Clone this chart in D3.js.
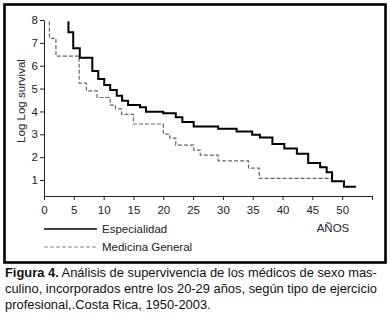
<!DOCTYPE html>
<html>
<head>
<meta charset="utf-8">
<script src="https://cdn.jsdelivr.net/npm/d3@7"></script>
<style>
  body { margin: 0; background: #fff; }
  svg { display: block; font-family: "Liberation Sans", Arial, sans-serif; }
</style>
</head>
<body>
<div id="chart"></div>
<script>
// step values (years, log log survival)
var especialidadYears = [4.1, 4.1, 4.9, 6.0, 8.1, 9.1, 10.1, 11.1, 12.2, 13.1, 14.1, 16.1, 17.1, 20.0, 22.1, 23.2, 25.1, 29.2, 32.3, 34.9, 36.2, 38.3, 40.3, 42.4, 44.3, 46.3, 47.4, 48.3, 50.3, 52.3]
var especialidadValues = [7.95, 7.46, 6.76, 6.35, 5.77, 5.42, 5.16, 4.94, 4.69, 4.47, 4.28, 4.18, 3.99, 3.92, 3.74, 3.54, 3.34, 3.24, 3.12, 2.98, 2.86, 2.58, 2.38, 2.15, 1.74, 1.56, 1.34, 0.94, 0.71, 0.71]

var generalYears = [0.9, 0.9, 2.0, 5.9, 7.1, 8.9, 11.1, 12.0, 13.0, 15.0, 20.0, 21.1, 22.1, 25.1, 26.2, 29.2, 34.3, 36.1, 48.4]
var generalValues = [7.93, 7.2, 6.42, 5.24, 4.9, 4.61, 4.28, 4.11, 3.87, 3.45, 3.01, 2.83, 2.53, 2.31, 2.09, 1.84, 1.52, 1.07, 1.07]

var xTicks = [0, 5, 10, 15, 20, 25, 30, 35, 40, 45, 50, 55]
var yTicks = [1, 2, 3, 4, 5, 6, 7, 8]
var seriesNames = ['Especialidad', 'Medicina General']
var captionLines = [
  ['Figura 4.', ' Análisis de supervivencia de los médicos de sexo mas-'],
  ['', 'culino, incorporados entre los 20-29 años, según tipo de ejercicio'],
  ['', 'profesional,.Costa Rica, 1950-2003.']
]

var W = 390, H = 324

var svg = d3.select('#chart').append('svg')
  .attr('width', W).attr('height', H)

//frame around the plot
svg.append('rect')
  .attr('x', 4.5).attr('y', 4.5)
  .attr('width', 381).attr('height', 258)
  .attr('fill', 'none').attr('stroke', '#000').attr('stroke-width', 2.6)

var x = d3.scaleLinear().domain([0, 55]).range([44, 372])
var y = d3.scaleLinear().domain([0.3, 8]).range([196, 20])

//axes
var xAxis = svg.append('g').attr('transform', 'translate(0,196)')
  .call(d3.axisBottom(x).tickValues(xTicks).tickSize(4).tickSizeOuter(0)
    .tickFormat(d => d == 55 ? '' : d))
var yAxis = svg.append('g').attr('transform', 'translate(44,0)')
  .call(d3.axisLeft(y).tickValues(yTicks).tickSize(4).tickSizeOuter(0))

svg.selectAll('.domain').attr('stroke', '#222')
svg.selectAll('.tick line').attr('stroke', '#222')
svg.selectAll('.tick text')
  .attr('font-size', '11.5px').attr('fill', '#222')
  .attr('font-family', '"Liberation Sans", Arial, sans-serif')
yAxis.selectAll('.tick text').attr('x', -6)
xAxis.selectAll('.tick text').attr('y', 10)

svg.append('text')
  .attr('transform', 'translate(25,101) rotate(-90)')
  .attr('text-anchor', 'middle')
  .attr('font-size', '11.5px').attr('fill', '#222')
  .text('Log Log survival')

svg.append('text')
  .attr('x', 333).attr('y', 232)
  .attr('text-anchor', 'middle')
  .attr('font-size', '11.5px').attr('fill', '#222')
  .text('AÑOS')

//step lines
var line = d3.line()
  .x(d => x(d[0]))
  .y(d => y(d[1]))
  .curve(d3.curveStepAfter)

svg.append('path')
  .datum(d3.zip(generalYears, generalValues))
  .attr('d', line)
  .attr('fill', 'none')
  .attr('stroke', '#666')
  .attr('stroke-width', 1.2)
  .attr('stroke-dasharray', '4,2')

svg.append('path')
  .datum(d3.zip(especialidadYears, especialidadValues))
  .attr('d', line)
  .attr('fill', 'none')
  .attr('stroke', '#000')
  .attr('stroke-width', 2)

//legend
var legend = svg.selectAll('.legend')
  .data(seriesNames)
  .enter().append('g')
  .attr('class', 'legend')
  .attr('transform', (d, i) => 'translate(0,' + (229 + i * 18) + ')')

legend.append('line')
  .attr('x1', 44).attr('x2', 97)
  .attr('stroke', (d, i) => i == 0 ? '#000' : '#888')
  .attr('stroke-width', (d, i) => i == 0 ? 1.6 : 1.2)
  .attr('stroke-dasharray', (d, i) => i == 0 ? null : '4,2')

legend.append('text')
  .attr('x', 102).attr('y', 4)
  .attr('font-size', '11.5px').attr('fill', '#222')
  .text(d => d)

//caption
var caption = svg.selectAll('.caption')
  .data(captionLines)
  .enter().append('text')
  .attr('class', 'caption')
  .attr('x', 5)
  .attr('y', (d, i) => 277 + i * 16)
  .attr('font-size', '12.9px').attr('fill', '#111')

caption.append('tspan').attr('font-weight', 'bold').text(d => d[0])
caption.append('tspan').text(d => d[1])
</script>
</body>
</html>
